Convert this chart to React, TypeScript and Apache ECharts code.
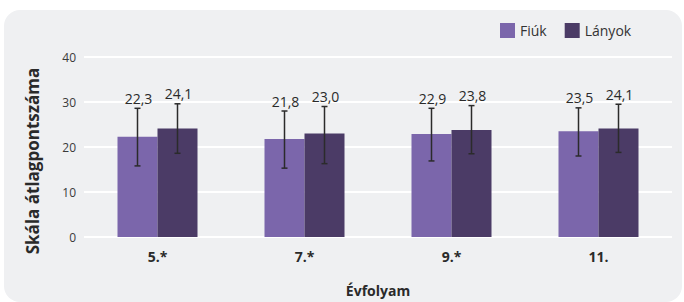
import React, { useEffect, useRef } from "react";
import * as echarts from "echarts";

const categories = ["5.*", "7.*", "9.*", "11."];
const seriesNames = ["Fiúk", "Lányok"];
const fiukValues = [22.3, 21.8, 22.9, 23.5];
const lanyokValues = [24.1, 23.0, 23.8, 24.1];
const fiukLow = [15.8, 15.3, 16.9, 18.0];
const fiukHigh = [28.6, 28.0, 28.6, 28.7];
const lanyokLow = [18.6, 16.3, 18.5, 18.8];
const lanyokHigh = [29.6, 29.0, 29.2, 29.5];
const yTicks = [0, 10, 20, 30, 40];
const yAxisTitle = "Skála átlagpontszáma";
const xAxisTitle = "Évfolyam";

const colors = ["#7b66ab", "#4b3b66"];
const FONT = "'Open Sans', 'Noto Sans', sans-serif";
const BAR_W = 40;

function fmt(v: number) {
  return v.toFixed(1).replace(".", ",");
}

export default function App() {
  const ref = useRef<HTMLDivElement>(null);
  useEffect(() => {
    if (!ref.current) return;
    const chart = echarts.init(ref.current, undefined, { renderer: "svg" });

    const errData: any[] = [];
    categories.forEach((_, i) => {
      errData.push([i, fiukLow[i], fiukHigh[i], fiukValues[i], 0]);
      errData.push([i, lanyokLow[i], lanyokHigh[i], lanyokValues[i], 1]);
    });

    const option: any = {
      animation: false,
      textStyle: { fontFamily: FONT },
      graphic: [
        {
          type: "text",
          x: 32,
          y: 161,
          rotation: Math.PI / 2,
          style: {
            text: yAxisTitle,
            font: `bold 17px ${FONT}`,
            fill: "#2a2a2a",
            align: "center",
            verticalAlign: "middle",
          },
        },
      ],
      legend: {
        data: seriesNames,
        left: 495,
        top: 18,
        itemWidth: 15,
        itemHeight: 15,
        itemGap: 18,
        icon: "rect",
        textStyle: { fontSize: 14, color: "#333333", fontFamily: FONT },
      },
      grid: { left: 84, right: 12, top: 57, bottom: 59 },
      xAxis: {
        type: "category",
        data: categories,
        axisLine: { show: false },
        axisTick: { show: false },
        axisLabel: { fontSize: 14, fontWeight: "bold", color: "#2a2a2a", margin: 12, fontFamily: FONT },
        name: xAxisTitle,
        nameLocation: "middle",
        nameGap: 46,
        nameTextStyle: { fontSize: 14, fontWeight: "bold", color: "#2a2a2a", fontFamily: FONT },
      },
      yAxis: {
        type: "value",
        min: yTicks[0],
        max: yTicks[yTicks.length - 1],
        interval: 10,
        axisLine: { show: false },
        axisTick: { show: false },
        splitLine: { lineStyle: { color: "#ffffff", width: 2 } },
        axisLabel: { fontSize: 12, color: "#3a3a3a", margin: 8, fontFamily: FONT },
      },
      series: [
        {
          name: seriesNames[0],
          type: "bar",
          data: fiukValues,
          barWidth: BAR_W,
          barGap: 0,
          itemStyle: { color: colors[0] },
        },
        {
          name: seriesNames[1],
          type: "bar",
          data: lanyokValues,
          barWidth: BAR_W,
          barGap: 0,
          itemStyle: { color: colors[1] },
        },
        {
          type: "custom",
          z: 10,
          data: errData,
          encode: { x: 0, y: [1, 2] },
          renderItem: (params: any, api: any) => {
            const idx = api.value(0);
            const lo = api.value(1);
            const hi = api.value(2);
            const val = api.value(3);
            const s = api.value(4);
            const offset = s === 0 ? -BAR_W / 2 : BAR_W / 2;
            const pLo = api.coord([idx, lo]);
            const pHi = api.coord([idx, hi]);
            const x = pLo[0] + offset;
            const cap = 3;
            const style = { stroke: "#2b2b2b", lineWidth: 1.5 };
            return {
              type: "group",
              children: [
                { type: "line", shape: { x1: x, y1: pLo[1], x2: x, y2: pHi[1] }, style },
                { type: "line", shape: { x1: x - cap, y1: pLo[1], x2: x + cap, y2: pLo[1] }, style },
                { type: "line", shape: { x1: x - cap, y1: pHi[1], x2: x + cap, y2: pHi[1] }, style },
                {
                  type: "text",
                  x: x + 1,
                  y: pHi[1] - 3,
                  style: {
                    text: fmt(val),
                    fill: "#2a2a2a",
                    font: `14px ${FONT}`,
                    align: "center",
                    verticalAlign: "bottom",
                  },
                },
              ],
            };
          },
        },
      ],
    };
    chart.setOption(option);
    return () => chart.dispose();
  }, []);

  return (
    <div style={{ position: "fixed", left: 0, top: 0, width: 684, height: 302, background: "#ffffff" }}>
      <div
        style={{
          position: "absolute",
          left: 4,
          top: 10,
          width: 678,
          height: 292,
          background: "#eff0f2",
          borderRadius: 16,
        }}
      />
      <div ref={ref} style={{ position: "absolute", left: 0, top: 0, width: 684, height: 302 }} />
    </div>
  );
}
